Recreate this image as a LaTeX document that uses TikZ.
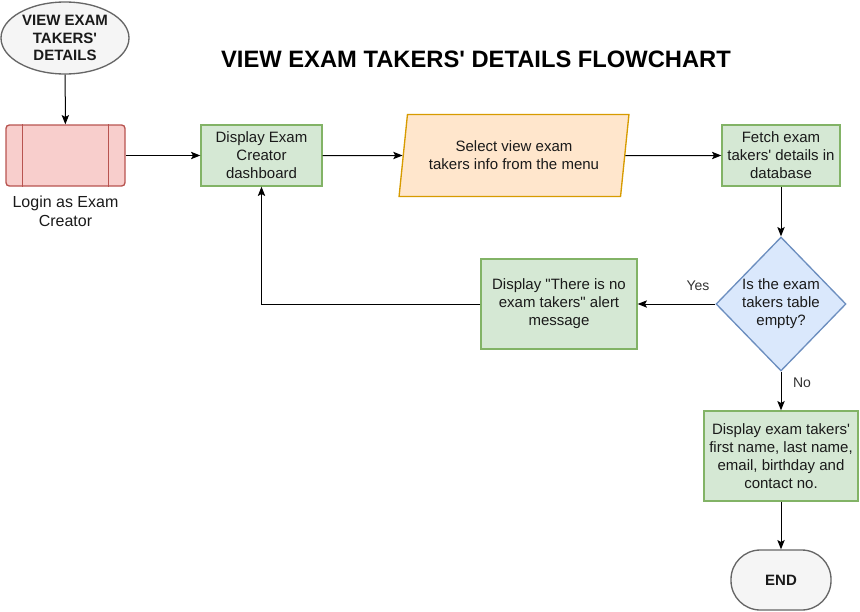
\documentclass[tikz,border=0pt]{standalone}
\usepackage{fontspec}
\setmainfont{Liberation Sans}
\usetikzlibrary{shapes.geometric,arrows.meta}
\definecolor{greenfill}{HTML}{D5E8D4}
\definecolor{greenline}{HTML}{82B366}
\definecolor{redfill}{HTML}{F8CECC}
\definecolor{redline}{HTML}{B85450}
\definecolor{orangefill}{HTML}{FFE6CC}
\definecolor{orangeline}{HTML}{D79B00}
\definecolor{bluefill}{HTML}{DAE8FC}
\definecolor{blueline}{HTML}{6C8EBF}
\definecolor{grayfill}{HTML}{F5F5F5}
\definecolor{grayline}{HTML}{666666}
\definecolor{txt}{HTML}{1A1A1A}
\newcommand\sq{\textquotesingle}
\newcommand\dq{\textquotedbl}
\begin{document}
\begin{tikzpicture}[x=0.75pt,y=-0.75pt,
  every node/.style={text=txt},
  base/.style={align=center, inner sep=0pt, line width=1pt, font=\fontsize{11.25}{13.5}\selectfont},
  greenbox/.style={base, rectangle, draw=greenline, fill=greenfill},
  term/.style={base, draw=grayline, fill=grayfill, font=\bfseries\fontsize{11.25}{13.2}\selectfont},
  arr/.style={draw=black, line width=0.75pt, -{Stealth[length=7pt,width=5.5pt,inset=1.5pt]}},
  lbl/.style={font=\fontsize{10.5}{12}\selectfont, text=black!80, fill=white, inner sep=1pt}
]
\useasboundingbox (0,0) rectangle (860,611);

\node[term, ellipse, minimum width=96pt, minimum height=54pt] (start) at (65,38) {VIEW EXAM\\TAKERS\sq\\DETAILS};

\node[font=\bfseries\fontsize{17.8}{20}\selectfont, text=black] (title) at (476,59) {VIEW EXAM TAKERS\sq{} DETAILS FLOWCHART};

\node[base, rectangle, rounded corners=2.5pt, draw=redline, fill=redfill, minimum width=89.25pt, minimum height=45.75pt] (login) at (65.5,155.5) {};
\draw[redline, line width=1pt] ([xshift=12.75pt]login.north west) -- ([xshift=12.75pt]login.south west);
\draw[redline, line width=1pt] ([xshift=-12.75pt]login.north east) -- ([xshift=-12.75pt]login.south east);
\node[align=center, font=\fontsize{12}{14.25}\selectfont] (loginlbl) at (65.5,211) {Login as Exam\\Creator};

\node[greenbox, minimum width=90.75pt, minimum height=45.75pt] (dash) at (261.5,155.5) {Display Exam\\Creator\\dashboard};

\node[base, trapezium, trapezium left angle=77, trapezium right angle=103, trapezium stretches=true, draw=orangeline, fill=orangefill, minimum width=172.5pt, minimum height=61.5pt] (sel) at (514,155.5) {Select view exam\\takers info from the menu};

\node[greenbox, minimum width=88.5pt, minimum height=45.75pt] (fetch) at (781,155.5) {Fetch exam\\takers\sq{} details in\\database};

\node[base, diamond, aspect=0.97, draw=blueline, fill=bluefill, minimum width=97.5pt, minimum height=100.5pt] (dia) at (781,304) {Is the exam\\takers table\\empty?};

\node[greenbox, minimum width=117pt, minimum height=67.5pt] (alert) at (559,304) {Display \dq{}There is no\\exam takers\dq{} alert\\message};

\node[greenbox, minimum width=115.5pt, minimum height=67.5pt] (disp) at (781,456) {Display exam takers\sq\\first name, last name,\\email, birthday and\\contact no.};

\node[term, rectangle, rounded corners=22pt, minimum width=75pt, minimum height=45pt] (endn) at (781,580) {END};

\draw[arr] (start) -- (login);
\draw[arr] (login) -- (dash);
\draw[arr] (dash) -- (sel);
\draw[arr] (sel) -- (fetch);
\draw[arr] (fetch) -- (dia);
\draw[arr] (dia) -- (alert);
\draw[arr] (alert.west) -| (dash.south);
\draw[arr] (dia) -- (disp);
\draw[arr] (disp) -- (endn);

\node[lbl] (yes) at (698,286) {Yes};
\node[lbl] (no) at (802,383) {No};
\end{tikzpicture}
\end{document}
